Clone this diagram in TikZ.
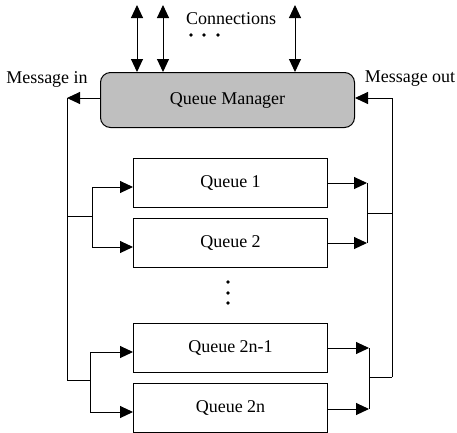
\documentclass[tikz,border=0pt]{standalone}
\usepackage{fontspec}
\setmainfont{Liberation Serif}
\usetikzlibrary{arrows.meta}
\begin{document}
\begin{tikzpicture}[x=1pt,y=-1pt,
  tip/.tip={Triangle[length=13pt,width=12pt]},
  arr/.style={-tip, line width=1pt},
  dblarr/.style={tip-tip, line width=1pt},
  ln/.style={line width=1pt},
  txt/.style={font=\fontsize{18}{20}\selectfont, inner sep=0pt},
  qbox/.style={draw, line width=1pt, minimum width=194pt, minimum height=49pt, inner sep=0pt, anchor=north west, font=\fontsize{18}{20}\selectfont},
  mgr/.style={draw, line width=1pt, fill=black!25, rounded corners=10pt, minimum width=254pt, minimum height=55pt, inner sep=0pt, anchor=north west, font=\fontsize{18}{20}\selectfont},
  dot/.style={circle, fill=black, inner sep=0pt, minimum size=3.6pt}
]
\useasboundingbox (0,0) rectangle (457,432);

% main boxes
\node[mgr] (qm) at (100,72) {Queue Manager};
\node[qbox] (q1) at (133,158) {Queue 1};
\node[qbox] (q2) at (133,218) {Queue 2};
\node[qbox] (q3) at (133,323) {Queue 2n-1};
\node[qbox] (q4) at (133,383) {Queue 2n};

% labels
\node[txt] (lconn) at (231,19) {Connections};
\node[txt] (lin) at (47,79) {Message in};
\node[txt] (lout) at (410,79) {Message out};

% dots
\node[dot] (h1) at (191,35) {};
\node[dot] (h2) at (204,35) {};
\node[dot] (h3) at (218,35) {};
\node[dot] (v1) at (228,282) {};
\node[dot] (v2) at (228,293) {};
\node[dot] (v3) at (228,303) {};

% connections
\coordinate (c1) at (137,5);
\coordinate (c2) at (163,5);
\coordinate (c3) at (295,5);
\draw[dblarr] (c1) -- (c1 |- qm.north);
\draw[dblarr] (c2) -- (c2 |- qm.north);
\draw[dblarr] (c3) -- (c3 |- qm.north);

% message in (left loop)
\coordinate (inl) at (67,98);
\coordinate (inb) at (67,380);
\coordinate (ja) at (67,216);
\coordinate (jb) at (92,216);
\coordinate (jc) at (90,380);
\draw[arr] (qm.west |- inl) -- (inl);
\draw[ln] (inl) -- (inb);
\draw[ln] (ja) -- (jb);
\draw[ln] (inb) -- (jc);
\draw[arr] (jb) |- ([yshift=-4pt]q1.west);
\draw[arr] (jb) |- ([yshift=-4pt]q2.west);
\draw[arr] (jc) |- ([yshift=-4pt]q3.west);
\draw[arr] (jc) |- ([yshift=-4pt]q4.west);

% message out (right loop)
\coordinate (outr) at (392,98);
\coordinate (outb) at (392,377);
\coordinate (ra) at (367,213);
\coordinate (rb) at (392,213);
\coordinate (rc) at (369,377);
\coordinate (r1) at (367,183);
\coordinate (r2) at (367,243);
\coordinate (r3) at (369,348);
\coordinate (r4) at (369,409);
\draw[arr] (q1.east |- r1) -- (r1);
\draw[arr] (q2.east |- r2) -- (r2);
\draw[arr] (q3.east |- r3) -- (r3);
\draw[arr] (q4.east |- r4) -- (r4);
\draw[ln] (r1) -- (r2);
\draw[ln] (r3) -- (r4);
\draw[ln] (ra) -- (rb);
\draw[ln] (rc) -- (outb);
\draw[ln] (outb) -- (outr);
\draw[arr] (outr) -- (qm.east |- outr);
\end{tikzpicture}
\end{document}
